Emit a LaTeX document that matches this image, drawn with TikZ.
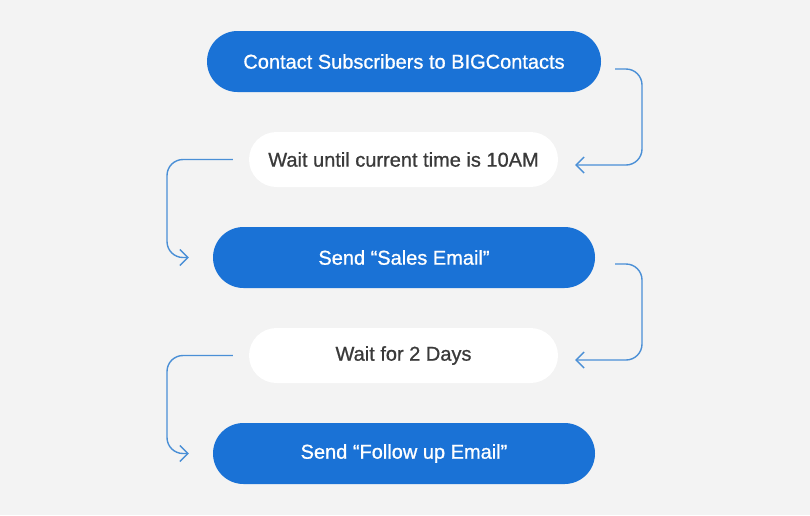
\documentclass[tikz,border=0pt]{standalone}
\usepackage{fontspec}
\newfontfamily\medfont{Liberation Sans}[FakeBold=0.9]
\usetikzlibrary{arrows.meta,calc}
\definecolor{bg}{HTML}{F3F3F3}
\definecolor{blu}{HTML}{1A72D6}
\definecolor{txt}{HTML}{3A3A3A}
\definecolor{lnk}{HTML}{4A8FD6}
\pgfdeclarelayer{shadowlayer}
\pgfsetlayers{shadowlayer,main}
\tikzset{
  bluebox/.style={fill=blu, text=white, minimum width=394, minimum height=61,
    rounded corners=30.5, inner sep=0, font=\medfont\fontsize{20}{24}\selectfont},
  whitebox/.style={fill=white, text=txt, minimum width=309, minimum height=55,
    rounded corners=27.5, inner sep=0, font=\medfont\fontsize{20}{24}\selectfont},
  link/.style={draw=lnk, line width=1.4, rounded corners=16,
    -{Straight Barb[length=8,width=16,line width=1.4]}}
}
\begin{document}
\begin{tikzpicture}[x=1pt,y=-1pt]
\fill[bg] (0,0) rectangle (810,515);
\useasboundingbox (0,0) rectangle (810,515);
\node[bluebox] (n1) at (404,61.5) {Contact Subscribers to BIGContacts};
\node[whitebox] (n2) at (403.5,159.5) {Wait until current time is 10AM};
\node[bluebox, minimum width=382] (n3) at (404,257.5) {Send “Sales Email”};
\node[whitebox] (n4) at (403.5,355.5) {Wait for 2 Days};
\node[bluebox, minimum width=382] (n5) at (404,453.5) {Send “Follow up Email”};
\begin{pgfonlayer}{shadowlayer}
\foreach \n/\r in {n1/30.5,n2/27.5,n3/30.5,n4/27.5,n5/30.5}{
  \foreach \i in {1,...,12}{
    \pgfmathsetmacro\rr{\r+\i}
    \fill[black,opacity=0.011,rounded corners=\rr]
      ($(\n.south west)+(-\i,\i+5)$) rectangle ($(\n.north east)+(\i,-\i+5)$);
  }
}
\end{pgfonlayer}
\coordinate (a1) at ($(n1.east)+(14,7.5)$);
\coordinate (b1) at ($(n2.east)+(17,5.5)$);
\draw[link] (a1) -- (642,69) -- (642,165) -- (b1);
\coordinate (a2) at ($(n2.west)+(-16,0)$);
\coordinate (b2) at ($(n3.west)+(-24,0)$);
\draw[link] (a2) -- (167,159.5) -- (167,257.5) -- (b2);
\coordinate (a3) at ($(n3.east)+(20,6.5)$);
\coordinate (b3) at ($(n4.east)+(17,4.5)$);
\draw[link] (a3) -- (642,264) -- (642,360) -- (b3);
\coordinate (a4) at ($(n4.west)+(-16,0)$);
\coordinate (b4) at ($(n5.west)+(-24,0)$);
\draw[link] (a4) -- (167,355.5) -- (167,453.5) -- (b4);
\end{tikzpicture}
\end{document}
